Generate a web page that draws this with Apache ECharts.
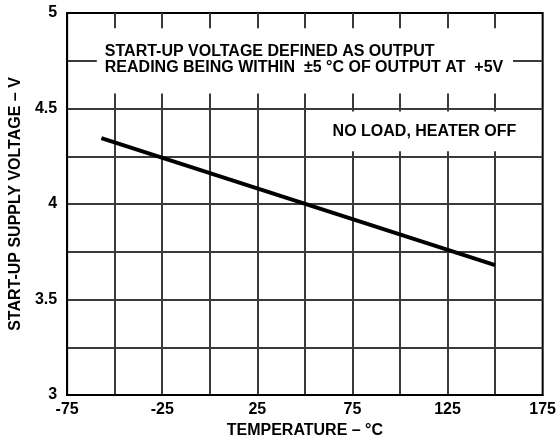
<!DOCTYPE html>
<html><head><meta charset="utf-8">
<script src="https://cdn.jsdelivr.net/npm/echarts@6/dist/echarts.min.js"></script>
<style>html,body{margin:0;padding:0;background:#fff}#c{width:559px;height:444px}</style>
</head><body><div id="c"></div>
<script>
const temperatures = [-57, 150];
const startupVoltage = [4.345, 3.68];
const xTickLabels = [-75, -25, 25, 75, 125, 175];
const yTickLabels = [3, 3.5, 4, 4.5, 5];
const xTitle = 'TEMPERATURE – °C';
const yTitle = 'START-UP SUPPLY VOLTAGE – V';
const note1 = 'START-UP VOLTAGE DEFINED AS OUTPUT\nREADING BEING WITHIN  ±5 °C OF OUTPUT AT  +5V';
const note2 = 'NO LOAD, HEATER OFF';

const FONT = '"Liberation Sans", Arial, sans-serif';
const chart = echarts.init(document.getElementById('c'), null, {renderer: 'canvas'});
const data = temperatures.map((t, i) => [t, startupVoltage[i]]);
const grid = {left: 65, right: 14, top: 13, bottom: 47};

chart.setOption({
  animation: false,
  grid: Object.assign({show: true, borderColor: '#000', borderWidth: 2, backgroundColor: '#fff'}, grid),
  xAxis: {
    type: 'value', min: -75, max: 175, interval: 25,
    name: xTitle, nameLocation: 'middle', nameGap: 28,
    nameTextStyle: {fontFamily: FONT, fontWeight: 'bold', fontSize: 16, color: '#000'},
    axisLine: {show: true, onZero: false, lineStyle: {color: '#000', width: 2}},
    axisTick: {show: false},
    axisLabel: {fontFamily: FONT, fontWeight: 'bold', fontSize: 16, color: '#000', margin: 7,
      formatter: v => xTickLabels.includes(v) ? String(v) : ''},
    splitLine: {show: true, showMinLine: false, showMaxLine: false, lineStyle: {color: '#3a3a3a', width: 2}}
  },
  yAxis: {
    type: 'value', min: 3, max: 5, interval: 0.25,
    name: yTitle, nameLocation: 'middle', nameGap: 41,
    nameTextStyle: {fontFamily: FONT, fontWeight: 'bold', fontSize: 16, color: '#000'},
    axisLine: {show: true, onZero: false, lineStyle: {color: '#000', width: 2}},
    axisTick: {show: false},
    axisLabel: {fontFamily: FONT, fontWeight: 'bold', fontSize: 16, color: '#000', margin: 10,
      formatter: v => yTickLabels.some(y => Math.abs(y - v) < 1e-9) ? String(v) : ''},
    splitLine: {show: true, showMinLine: false, showMaxLine: false, lineStyle: {color: '#3a3a3a', width: 2}}
  },
  series: [{
    type: 'line', data: data, showSymbol: false, symbol: 'none',
    lineStyle: {color: '#000', width: 4, cap: 'butt'}, z: 5
  }]
});

function px(x, y) { return chart.convertToPixel({gridIndex: 0}, [x, y]); }
const b1a = px(-59.4, 4.92), b1b = px(159.4, 4.578);
const b2a = px(63, 4.484), b2b = px(174.2, 4.276);
chart.setOption({
  graphic: [
    {type: 'rect', z: 3, shape: {x: b1a[0], y: b1a[1], width: b1b[0] - b1a[0], height: b1b[1] - b1a[1]}, style: {fill: '#fff'}},
    {type: 'text', z: 4, x: b1a[0] + 8, y: b1a[1] + 15, style: {text: note1, fontFamily: FONT, fontWeight: 'bold', fontSize: 16, lineHeight: 16, fill: '#000', verticalAlign: 'top'}},
    {type: 'rect', z: 3, shape: {x: b2a[0], y: b2a[1], width: b2b[0] - b2a[0], height: b2b[1] - b2a[1]}, style: {fill: '#fff'}},
    {type: 'text', z: 4, x: b2a[0] + 3, y: (b2a[1] + b2b[1]) / 2, style: {text: note2, fontFamily: FONT, fontWeight: 'bold', fontSize: 16, fill: '#000', verticalAlign: 'middle'}}
  ]
});
</script></body></html>
